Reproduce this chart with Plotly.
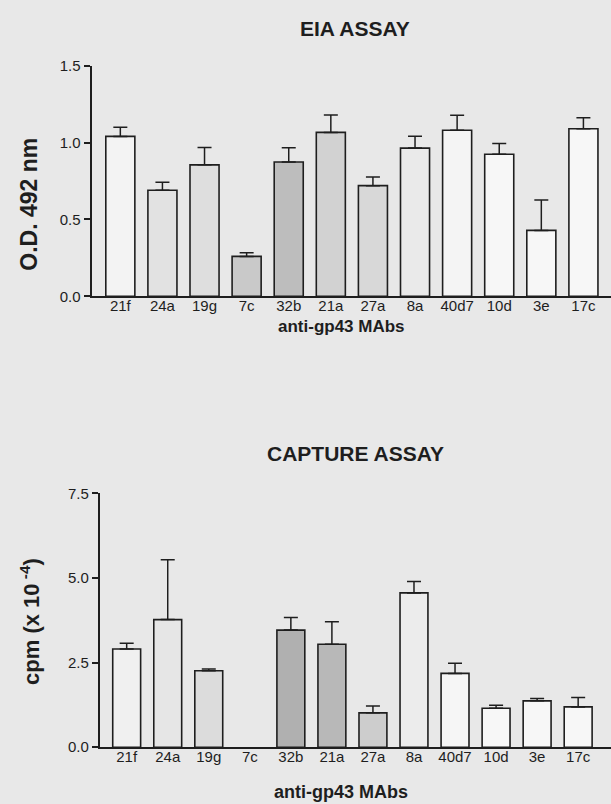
import plotly.graph_objects as go

W, H = 611, 804
# the captured page is 8 px taller than the figure and is squeezed back to 804 px
YSCALE = 812 / 804

categories = ["21f", "24a", "19g", "7c", "32b", "21a", "27a", "8a", "40d7", "10d", "3e", "17c"]

# EIA assay (O.D. 492 nm)
eia_values = [1.04, 0.69, 0.855, 0.26, 0.874, 1.066, 0.72, 0.964, 1.08, 0.924, 0.429, 1.09]
eia_err = [0.06, 0.052, 0.113, 0.023, 0.093, 0.113, 0.056, 0.077, 0.097, 0.07, 0.197, 0.072]
eia_fill = ["#f3f3f3", "#e2e2e2", "#dedede", "#c9c9c9", "#bdbdbd", "#d2d2d2",
            "#d8d8d8", "#eaeaea", "#f4f4f4", "#f7f7f7", "#f7f7f7", "#f7f7f7"]

# Capture assay (cpm x 10^-4)
cap_values = [2.9, 3.77, 2.26, None, 3.46, 3.04, 1.015, 4.56, 2.18, 1.15, 1.37, 1.19]
cap_err = [0.17, 1.77, 0.05, None, 0.37, 0.67, 0.2, 0.34, 0.3, 0.09, 0.07, 0.28]
cap_fill = ["#f0f0f0", "#e6e6e6", "#dcdcdc", "#ffffff", "#b0b0b0", "#b8b8b8",
            "#cdcdcd", "#ececec", "#f6f6f6", "#f7f7f7", "#f7f7f7", "#f7f7f7"]

FONT = "Liberation Sans, Arial, Helvetica, sans-serif"
INK = "#1e1e1e"
BG = "#e8e8e8"

fig = go.Figure()

fig.add_trace(go.Bar(
    x=categories, y=eia_values, xaxis="x", yaxis="y", width=0.69,
    marker=dict(color=eia_fill, line=dict(color=INK, width=1.6)),
    error_y=dict(type="data", symmetric=False, array=eia_err,
                 arrayminus=[0] * len(eia_err), color=INK, thickness=1.5, width=7),
    showlegend=False,
))

fig.add_trace(go.Bar(
    x=categories, y=cap_values, xaxis="x2", yaxis="y2", width=0.68,
    marker=dict(color=cap_fill, line=dict(color=INK, width=1.6)),
    error_y=dict(type="data", symmetric=False, array=cap_err,
                 arrayminus=[0] * len(cap_err), color=INK, thickness=1.5, width=7),
    showlegend=False,
))

def px(x):
    return x / W

def py(y):
    return 1 - (y * YSCALE) / H

tickfont = dict(family=FONT, size=15, color=INK)

fig.update_layout(
    width=W, height=H,
    margin=dict(l=0, r=0, t=0, b=0),
    paper_bgcolor=BG, plot_bgcolor="rgba(0,0,0,0)",
    font=dict(family=FONT, color=INK),
    xaxis=dict(domain=[px(91.7), 1.0], range=[-0.68, 11.655], anchor="y",
               showgrid=False, zeroline=False, showline=True, linecolor=INK, linewidth=2.2,
               ticks="", tickfont=tickfont, ticklabelstandoff=-5),
    yaxis=dict(domain=[py(290.7), py(57.3)], range=[0, 1.5], anchor="x",
               tickvals=[0, 0.5, 1.0, 1.5], ticktext=["0.0", "0.5", "1.0", "1.5"],
               showgrid=False, zeroline=False, showline=True, linecolor=INK, linewidth=2.2,
               ticks="outside", ticklen=6, tickwidth=2, tickcolor=INK,
               tickfont=tickfont, ticklabelstandoff=0),
    xaxis2=dict(domain=[px(100), 1.0], range=[-0.65, 11.80], anchor="y2",
                showgrid=False, zeroline=False, showline=True, linecolor=INK, linewidth=2.2,
                ticks="", tickfont=tickfont, ticklabelstandoff=-5),
    yaxis2=dict(domain=[py(746.7), py(490)], range=[0, 7.5], anchor="x2",
                tickvals=[0, 2.5, 5.0, 7.5], ticktext=["0.0", "2.5", "5.0", "7.5"],
                showgrid=False, zeroline=False, showline=True, linecolor=INK, linewidth=2.2,
                ticks="outside", ticklen=6, tickwidth=2, tickcolor=INK,
                tickfont=tickfont, ticklabelstandoff=0),
)

def label(text, x, y, size, angle=0):
    fig.add_annotation(text=text, x=px(x), y=py(y), xref="paper", yref="paper",
                       xanchor="center", yanchor="middle", showarrow=False, textangle=angle,
                       font=dict(family=FONT, size=size, color=INK, weight="bold"))

label("EIA ASSAY", 355, 20, 21)
label("O.D. 492 nm", 29, 198, 23, -90)
label("anti-gp43 MAbs", 341, 321, 17)

label("CAPTURE ASSAY", 355, 450, 21)
label("cpm (x 10<sup> -4</sup>)", 30, 620, 22, -90)
label("anti-gp43 MAbs", 341, 792, 18)

fig.write_html(
    "out.html",
    config={"displayModeBar": False},
    post_script=(
        "var gd=document.getElementById('{plot_id}');"
        "gd.style.position='fixed';gd.style.top='0px';gd.style.left='0px';"
        "document.body.style.margin='0';document.body.style.padding='0';"
        "document.body.style.overflow='hidden';"
        "document.documentElement.style.overflow='hidden';"
    ),
)
